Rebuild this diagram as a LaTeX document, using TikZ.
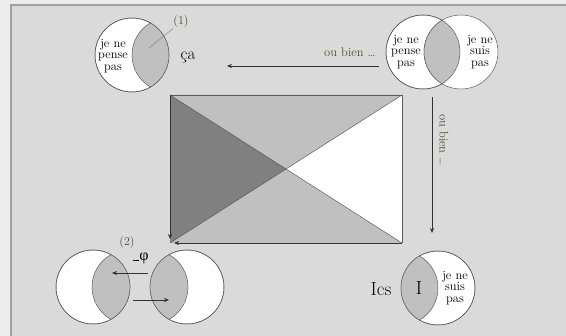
\documentclass[tikz,border=0pt]{standalone}
\usepackage{fontspec}
\newfontfamily\grk{Liberation Serif}
\usetikzlibrary{arrows.meta}
\definecolor{bg}{RGB}{218,218,218}
\definecolor{bgl}{RGB}{236,236,236}
\definecolor{framec}{RGB}{160,160,160}
\definecolor{lensgray}{RGB}{192,192,192}
\definecolor{darkgray}{RGB}{128,128,128}
\definecolor{circ}{RGB}{90,90,90}
\definecolor{arrc}{RGB}{50,50,50}
\definecolor{olive}{RGB}{80,80,45}
\begin{document}
\begin{tikzpicture}[x=1pt,y=-1pt,
  venn/.style={circle, draw=circ, line width=0.5pt, fill=white, minimum size=74pt, inner sep=0pt},
  lens/.style={fill=lensgray, draw=circ, line width=0.5pt},
  arr/.style={draw=arrc, line width=0.6pt, -{Stealth[length=5pt,width=4pt]}},
  vtext/.style={align=center, font=\fontsize{12.5}{11.5}\selectfont, inner sep=0pt},
  lbl/.style={text=olive, inner sep=0pt},
  edge/.style={draw=circ, line width=0.5pt}]
\useasboundingbox (0,0) rectangle (566,336);
% background
\fill[bgl] (0,0) rectangle (566,336);
\fill[bg] (11,5) rectangle (566,336);
\draw[framec, line width=1.5pt] (11,336) -- (11,5) -- (566,5);

% central rectangle
\coordinate (A) at (170,95);
\coordinate (B) at (402,95);
\coordinate (C) at (402,243);
\coordinate (D) at (170,243);
\coordinate (O) at (286,169);
\fill[lensgray] (A) -- (B) -- (O) -- cycle;
\fill[lensgray] (D) -- (C) -- (O) -- cycle;
\fill[darkgray] (A) -- (D) -- (O) -- cycle;
\fill[white] (B) -- (C) -- (O) -- cycle;
\draw[edge] (A) -- (B) -- (C);
\draw[edge] (A) -- (C);
\draw[edge] (B) -- (D);
\coordinate (Dl) at (170,239);
\coordinate (Db) at (174,243);
\draw[arr] (A) -- (Dl);
\draw[arr] (C) -- (Db);

% top-left circle (ca)
\node[venn] (tl) at (132,55) {};
\begin{scope}
  \clip (tl.center) circle (37pt);
  \draw[lens] (169,55) circle (37pt);
\end{scope}
\draw[circ, line width=0.5pt] (tl.center) circle (37pt);
\node[vtext] (tlt) at (113,56) {je ne\\pense\\pas};
\node[inner sep=0pt, font=\fontsize{17}{17}\selectfont] (ca) at (188,57) {ça};
\node[lbl, font=\fontsize{12}{12}\selectfont] (n1) at (181,22) {(1)};
\coordinate (p1) at (149,48);
\draw[gray, line width=0.4pt] (n1.south west) -- (p1);

% top-right pair
\node[venn] (trl) at (423,52) {};
\node[venn] (trr) at (461,52) {};
\begin{scope}
  \clip (trl.center) circle (37pt);
  \draw[lens] (trr.center) circle (37pt);
\end{scope}
\draw[circ, line width=0.5pt] (trl.center) circle (37pt);
\node[vtext] (trlt) at (406,52) {je ne\\pense\\pas};
\node[vtext] (trrt) at (480,52) {je ne\\suis\\pas};

% top arrow
\coordinate (t1) at (379,66);
\coordinate (t2) at (227,66);
\draw[arr] (t1) -- (t2);
\node[lbl, font=\fontsize{12.5}{12.5}\selectfont] (ob1) at (350,52) {ou bien \dots};

% vertical arrow
\coordinate (v1) at (432,97);
\coordinate (v2) at (432,233);
\draw[arr] (v1) -- (v2);
\node[lbl, font=\fontsize{12.5}{12.5}\selectfont, rotate=-90] (ob2) at (444,140) {ou bien \dots};

% bottom-right circle
\node[venn] (br) at (438,288) {};
\begin{scope}
  \clip (br.center) circle (37pt);
  \draw[lens] (401,288) circle (37pt);
\end{scope}
\draw[circ, line width=0.5pt] (br.center) circle (37pt);
\node[inner sep=0pt, font=\fontsize{19}{19}\selectfont] (I) at (419,288) {I};
\node[inner sep=0pt, font=\fontsize{19}{19}\selectfont, text=black!85!olive] (ics) at (381,289) {Ics};
\node[vtext] (brt) at (455,288) {je ne\\suis\\pas};

% bottom-left pair
\node[venn] (bl1) at (93,287) {};
\begin{scope}
  \clip (bl1.center) circle (37pt);
  \draw[lens] (129,287) circle (37pt);
\end{scope}
\draw[circ, line width=0.5pt] (bl1.center) circle (37pt);
\node[venn] (bl2) at (187,287) {};
\begin{scope}
  \clip (bl2.center) circle (37pt);
  \draw[lens] (151,287) circle (37pt);
\end{scope}
\draw[circ, line width=0.5pt] (bl2.center) circle (37pt);
\coordinate (b1) at (148,273);
\coordinate (b2) at (112,273);
\coordinate (b3) at (133,300);
\coordinate (b4) at (169,300);
\draw[arr] (b1) -- (b2);
\draw[arr] (b3) -- (b4);
\node[lbl, font=\fontsize{12}{12}\selectfont] (n2) at (127,243) {(2)};
\node[inner sep=0pt, font=\fontsize{16}{16}\selectfont] (phi) at (141,258) {\rule[-1pt]{6pt}{0.8pt}{\grk φ}};
\end{tikzpicture}
\end{document}
